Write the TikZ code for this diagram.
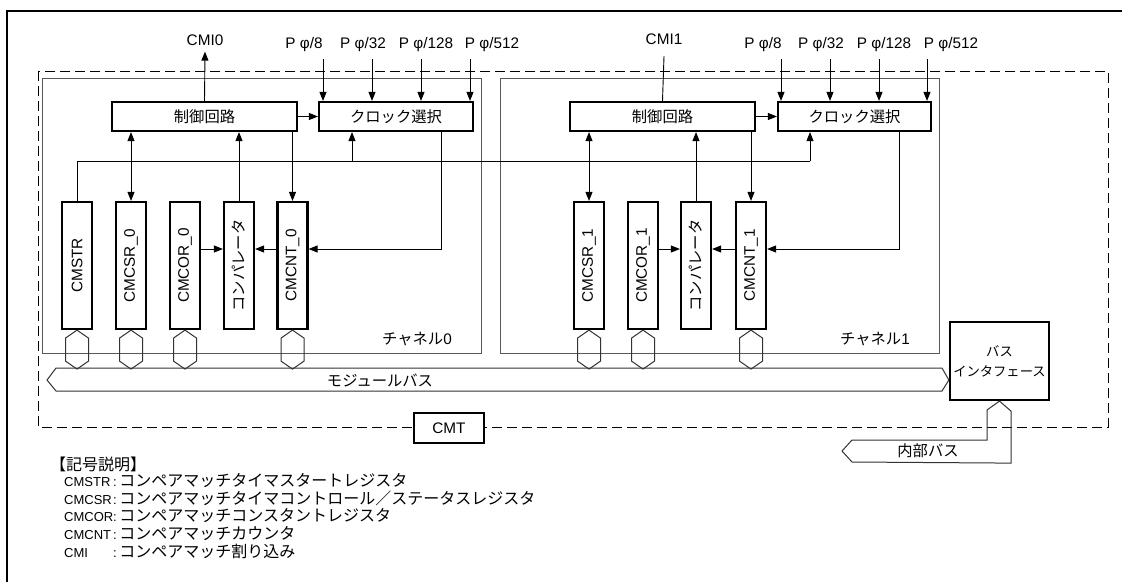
\documentclass[tikz,border=0pt]{standalone}
\usepackage{fontspec}
\setmainfont{Liberation Sans}
\newfontfamily\jp{Noto Sans CJK JP}
\usetikzlibrary{arrows.meta}

\begin{document}
\begin{tikzpicture}[x=1pt,y=-1pt,
  font=\fontsize{15.3}{18}\selectfont,
  thin/.style={line width=0.9pt},
  sig/.style={line width=0.9pt,-{Triangle[length=9pt,width=7pt]}},
  dsig/.style={line width=0.9pt,{Triangle[length=9pt,width=7pt]}-{Triangle[length=9pt,width=7pt]}},
  blk/.style={draw,line width=2.2pt,minimum height=29pt,inner sep=0pt},
  reg/.style={draw,line width=2.2pt,minimum width=30pt,minimum height=127pt,inner sep=0pt},
  chan/.style={draw=black!65,line width=1pt},
  bus/.style={draw=black!80,line width=1pt},
  lbl/.style={inner sep=0pt},
  lgd/.style={inner sep=0pt,anchor=west,font=\fontsize{16}{18}\selectfont}]
  \useasboundingbox (0,0) rectangle (1122,582);
  % frame and CMT module
  \draw[line width=2.5pt] (7,582) -- (7,11) -- (1122,11);
  \draw[line width=0.9pt,dash pattern=on 10pt off 5pt] (38,71) rectangle (1108,427);
  \node[draw,fill=white,line width=1.5pt,minimum width=70pt,minimum height=30pt] (cmt) at (449,428) {CMT};
  % channels
  \draw[chan] (42,78) rectangle (481,353);
  \draw[chan] (500,78) rectangle (939,353);
  \node[lbl] (ch0) at (417,339) {{\jp チャネル}0};
  \node[lbl] (ch1) at (875,339) {{\jp チャネル}1};
  % blocks
  \node[blk,minimum width=185pt] (ctrl0) at (204.5,116.5) {\jp 制御回路};
  \node[blk,minimum width=154pt] (clk0) at (396,116.5) {\jp クロック選択};
  \node[blk,minimum width=185pt] (ctrl1) at (662.5,116.5) {\jp 制御回路};
  \node[blk,minimum width=153pt] (clk1) at (854.5,116.5) {\jp クロック選択};
  % registers
  \node[reg] (str) at (77,265.5) {\rotatebox{90}{CMSTR}};
  \node[reg] (csr0) at (131,265.5) {\rotatebox{90}{CMCSR\_0}};
  \node[reg] (cor0) at (185,265.5) {\rotatebox{90}{CMCOR\_0}};
  \node[reg] (cmp0) at (239,265.5) {\rotatebox{90}{\jp コンパレータ}};
  \node[reg] (cnt0) at (292.5,265.5) {\rotatebox{90}{CMCNT\_0}};
  \node[reg] (csr1) at (589,265.5) {\rotatebox{90}{CMCSR\_1}};
  \node[reg] (cor1) at (643,265.5) {\rotatebox{90}{CMCOR\_1}};
  \node[reg] (cmp1) at (696,265.5) {\rotatebox{90}{\jp コンパレータ}};
  \node[reg] (cnt1) at (751,265.5) {\rotatebox{90}{CMCNT\_1}};
  % outside signals
  \node[lbl] (cmi0) at (205,40) {CMI0};
  \node[lbl] (cmi1) at (664,39) {CMI1};
  \draw[sig] (ctrl0.north) -- ([yshift=-6pt]cmi0.south);
  \draw[thin] (ctrl1.north) -- ([yshift=-11.5pt]cmi1.south);
  \node[lbl] (pa8) at (304,45) {P φ/8};
  \node[lbl] (pa32) at (363,45) {P φ/32};
  \node[lbl] (pa128) at (426,45) {P φ/128};
  \node[lbl] (pa512) at (492,45) {P φ/512};
  \node[lbl] (pb8) at (763,45) {P φ/8};
  \node[lbl] (pb32) at (821,45) {P φ/32};
  \node[lbl] (pb128) at (884,45) {P φ/128};
  \node[lbl] (pb512) at (951,45) {P φ/512};
  \coordinate (ca8) at (323,59);
  \coordinate (ca32) at (372,59);
  \coordinate (ca128) at (421,59);
  \coordinate (ca512) at (470,59);
  \coordinate (cb8) at (781,59);
  \coordinate (cb32) at (830,59);
  \coordinate (cb128) at (879,59);
  \coordinate (cb512) at (927,59);
  \draw[sig] (ca8) -- (ca8 |- clk0.north);
  \draw[sig] (ca32) -- (ca32 |- clk0.north);
  \draw[sig] (ca128) -- (ca128 |- clk0.north);
  \draw[sig] (ca512) -- (ca512 |- clk0.north);
  \draw[sig] (cb8) -- (cb8 |- clk1.north);
  \draw[sig] (cb32) -- (cb32 |- clk1.north);
  \draw[sig] (cb128) -- (cb128 |- clk1.north);
  \draw[sig] (cb512) -- (cb512 |- clk1.north);
  % control paths
  \draw[sig] (ctrl0.east) -- (clk0.west);
  \draw[sig] (ctrl1.east) -- (clk1.west);
  \draw[dsig] (csr0.north) -- (csr0.north |- ctrl0.south);
  \draw[sig] (cmp0.north) -- (cmp0.north |- ctrl0.south);
  \draw[sig] (cnt0.north |- ctrl0.south) -- (cnt0.north);
  \draw[dsig] (csr1.north) -- (csr1.north |- ctrl1.south);
  \draw[sig] (cmp1.north) -- (cmp1.north |- ctrl1.south);
  \draw[sig] (cnt1.north |- ctrl1.south) -- (cnt1.north);
  % start line from CMSTR
  \coordinate (tap0) at (352,161);
  \coordinate (tap1) at (810,161);
  \draw[thin] (str.north) |- (tap1);
  \draw[sig] (tap0) -- (tap0 |- clk0.south);
  \draw[sig] (tap1) -- (tap1 |- clk1.south);
  % count and compare
  \coordinate (arw) at (0,249);
  \draw[sig] (cor0.east |- arw) -- (cmp0.west |- arw);
  \draw[sig] (cnt0.west |- arw) -- (cmp0.east |- arw);
  \draw[sig] ([xshift=45pt]clk0.south) |- (cnt0.east |- arw);
  \draw[sig] (cor1.east |- arw) -- (cmp1.west |- arw);
  \draw[sig] (cnt1.west |- arw) -- (cmp1.east |- arw);
  \draw[sig] ([xshift=44.5pt]clk1.south) |- (cnt1.east |- arw);
  % buses
  \node[draw,line width=2.2pt,minimum width=97pt,minimum height=78pt,align=center,
    font=\fontsize{13.3}{20}\selectfont\jp] (bif) at (999.5,361) {バス\\インタフェース};
  \node[lbl] (mbus) at (380,380) {\jp モジュールバス};
  \draw[bus] (47,380) -- (56,368) -- (942,368) -- (bif.west |- mbus) -- (942,391) -- (56,391) -- cycle;
  \draw[bus] (str.south) -- ++(11.5,8) -- ++(0,23) -- ++(-11.5,8) -- ++(-11.5,-8) -- ++(0,-23) -- cycle;
  \draw[bus] (csr0.south) -- ++(11.5,8) -- ++(0,23) -- ++(-11.5,8) -- ++(-11.5,-8) -- ++(0,-23) -- cycle;
  \draw[bus] (cor0.south) -- ++(11.5,8) -- ++(0,23) -- ++(-11.5,8) -- ++(-11.5,-8) -- ++(0,-23) -- cycle;
  \draw[bus] (cnt0.south) -- ++(11.5,8) -- ++(0,23) -- ++(-11.5,8) -- ++(-11.5,-8) -- ++(0,-23) -- cycle;
  \draw[bus] (csr1.south) -- ++(11.5,8) -- ++(0,23) -- ++(-11.5,8) -- ++(-11.5,-8) -- ++(0,-23) -- cycle;
  \draw[bus] (cor1.south) -- ++(11.5,8) -- ++(0,23) -- ++(-11.5,8) -- ++(-11.5,-8) -- ++(0,-23) -- cycle;
  \draw[bus] (cnt1.south) -- ++(11.5,8) -- ++(0,23) -- ++(-11.5,8) -- ++(-11.5,-8) -- ++(0,-23) -- cycle;
  \node[lbl] (ibus) at (928,451) {\jp 内部バス};
  \draw[bus] (bif.south) -- ++(11.5,10) -- ++(0,52) -- (852,462) -- (842,451) -- (852,440) -- (987,440) -- (987,410) -- cycle;
  % legend
  \node[lgd] (lg0) at (50,464) {\jp 【記号説明】};
  \node[lgd] (lg1) at (64,481) {\makebox[49pt][l]{\fontsize{13}{15}\selectfont CMSTR}{\fontsize{13}{15}\selectfont :}\,{\jp コンペアマッチタイマスタートレジスタ}};
  \node[lgd] (lg2) at (64,498.5) {\makebox[49pt][l]{\fontsize{13}{15}\selectfont CMCSR}{\fontsize{13}{15}\selectfont :}\,{\jp コンペアマッチタイマコントロール／ステータスレジスタ}};
  \node[lgd] (lg3) at (64,516) {\makebox[49pt][l]{\fontsize{13}{15}\selectfont CMCOR}{\fontsize{13}{15}\selectfont :}\,{\jp コンペアマッチコンスタントレジスタ}};
  \node[lgd] (lg4) at (64,533.5) {\makebox[49pt][l]{\fontsize{13}{15}\selectfont CMCNT}{\fontsize{13}{15}\selectfont :}\,{\jp コンペアマッチカウンタ}};
  \node[lgd] (lg5) at (64,551) {\makebox[49pt][l]{\fontsize{13}{15}\selectfont CMI}{\fontsize{13}{15}\selectfont :}\,{\jp コンペアマッチ割り込み}};
\end{tikzpicture}
\end{document}
